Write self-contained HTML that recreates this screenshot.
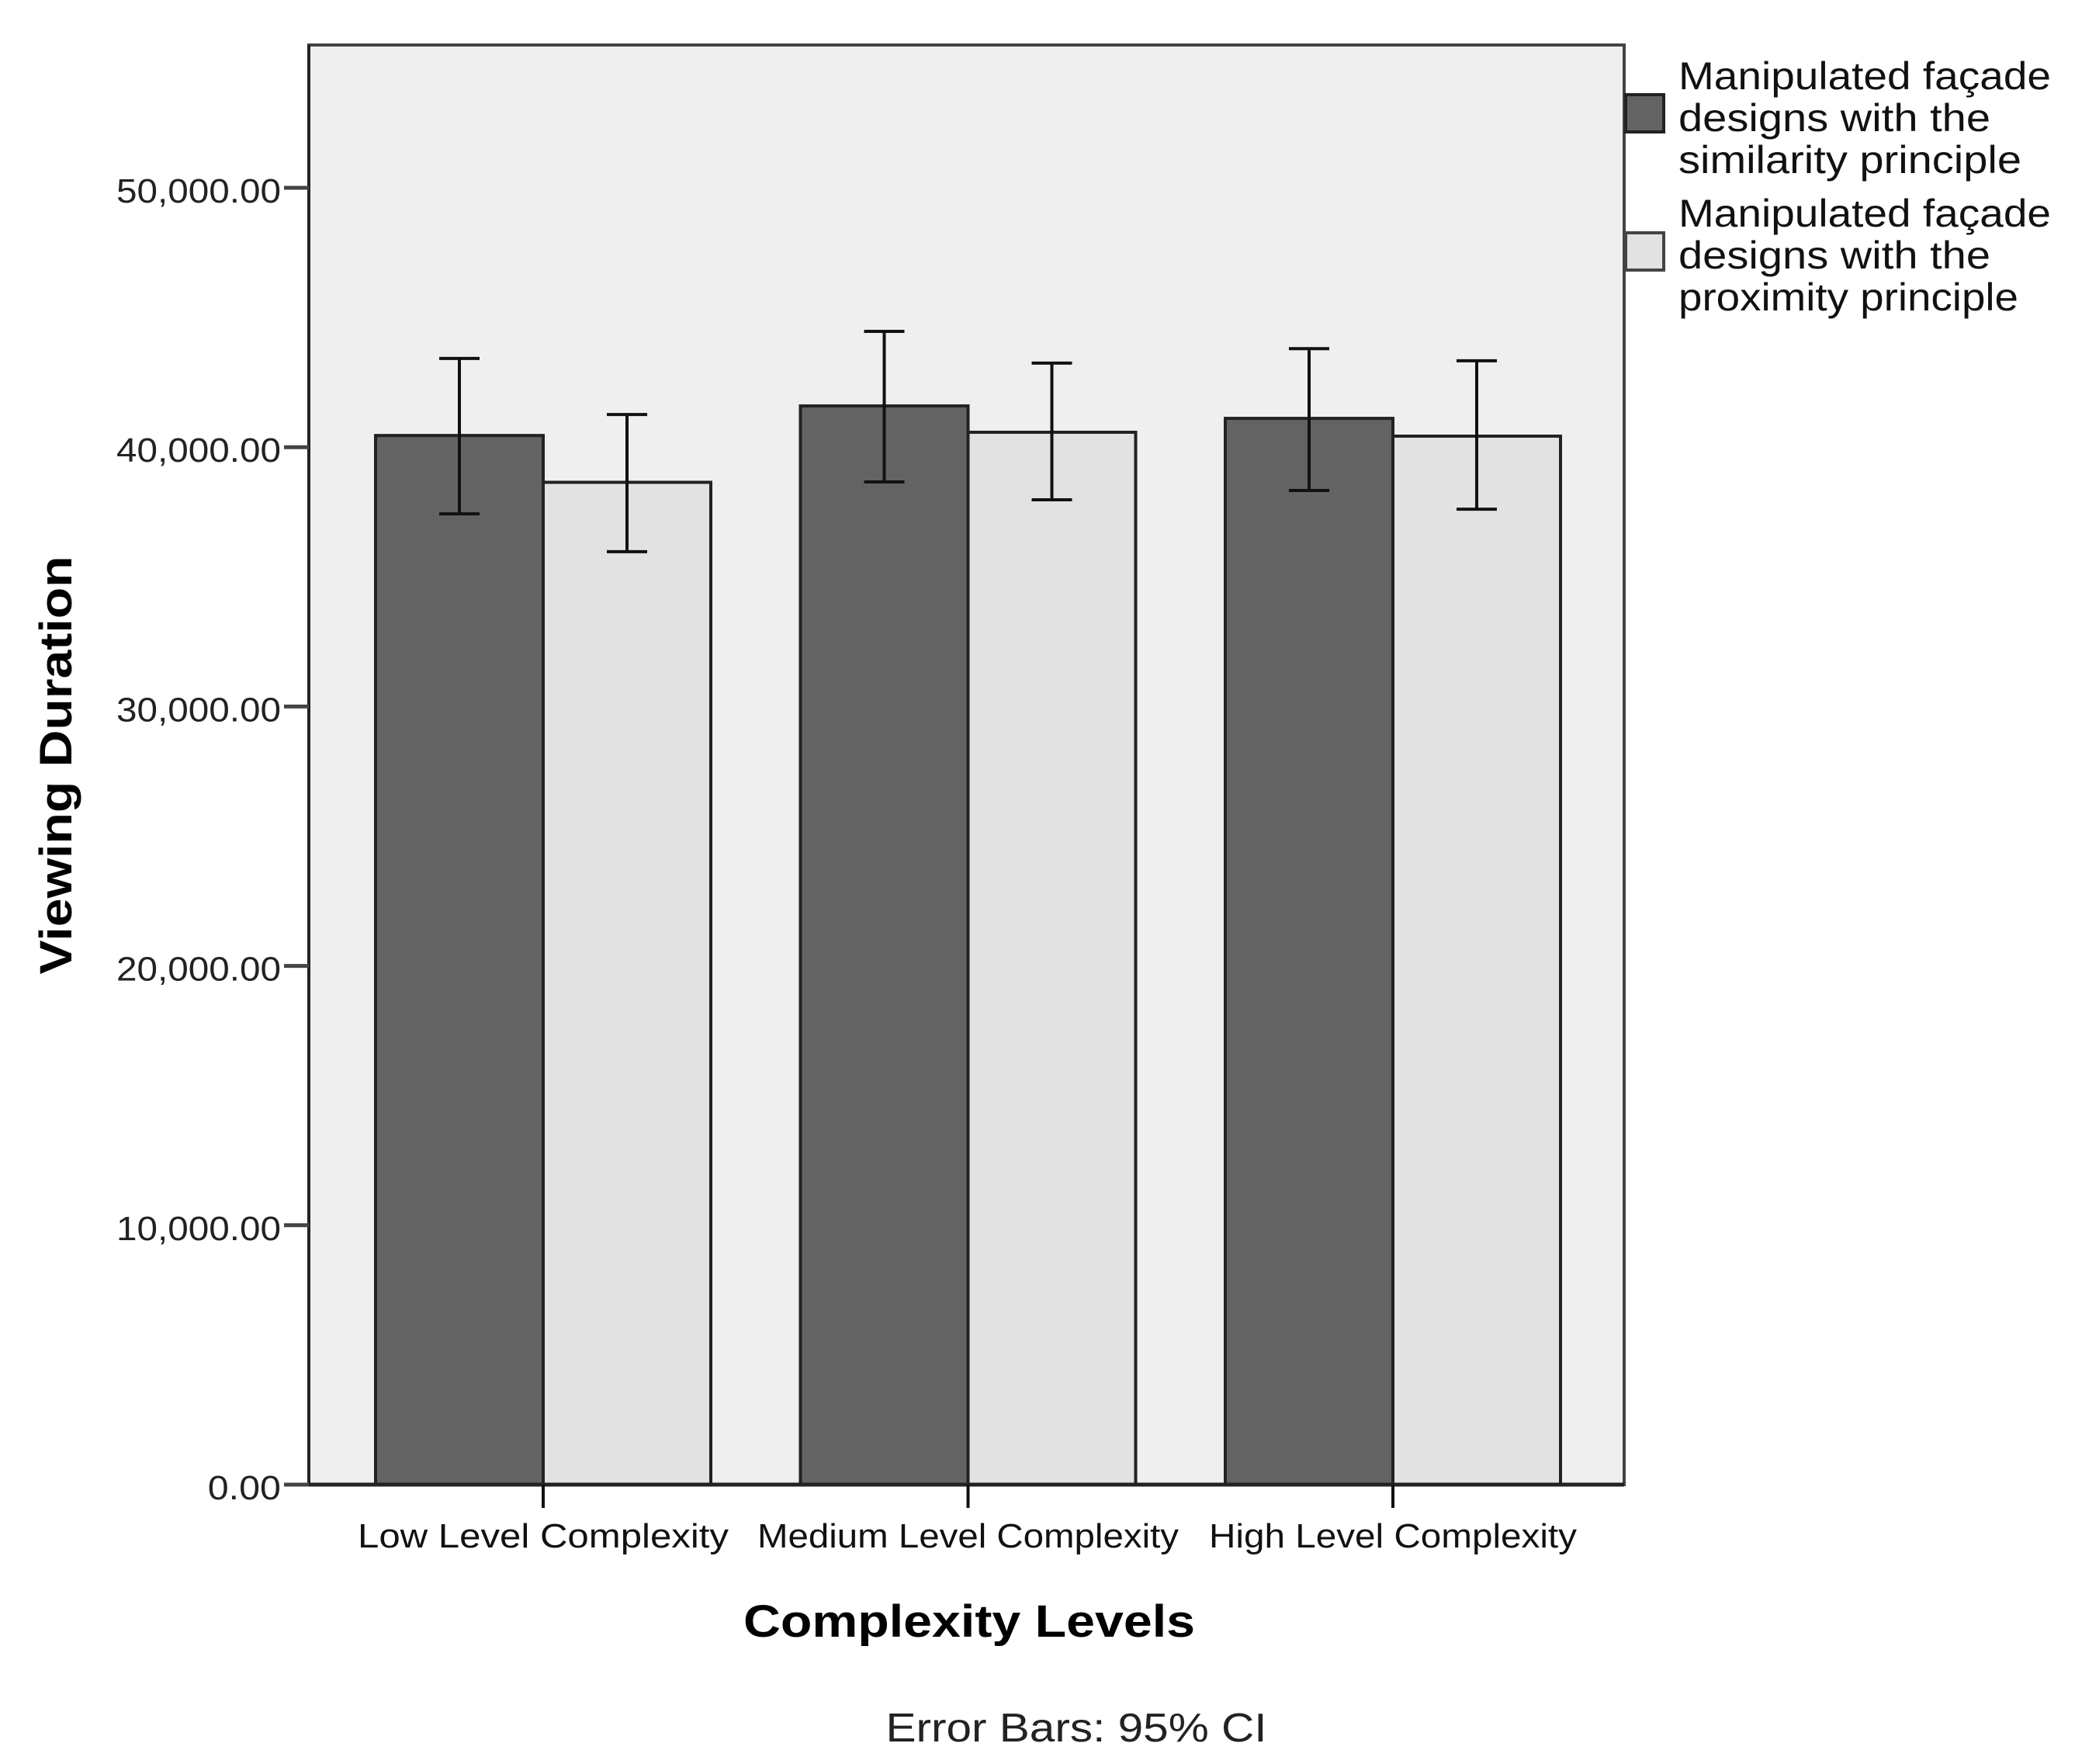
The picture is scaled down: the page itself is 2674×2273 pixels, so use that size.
<!DOCTYPE html>
<html><head><meta charset="utf-8"><style>
html,body{margin:0;padding:0;background:#fff;}
svg{display:block;font-family:"Liberation Sans",Arial,sans-serif;}
</style></head><body>
<svg id="chart" width="2674" height="2273" viewBox="0 0 2674 2273" xmlns="http://www.w3.org/2000/svg">
<rect x="398" y="58" width="1695" height="1855" fill="#efefef" stroke="#444" stroke-width="4"/>
<g id="marks"></g>
<g id="axes"></g>
<text x="1249" y="2109" font-size="58" font-weight="bold" text-anchor="middle" textLength="582" lengthAdjust="spacingAndGlyphs" fill="#000">Complexity Levels</text>
<text transform="translate(92,986) rotate(-90)" font-size="58" font-weight="bold" text-anchor="middle" textLength="539" lengthAdjust="spacingAndGlyphs" fill="#000">Viewing Duration</text>
<text x="1387" y="2244" font-size="52" text-anchor="middle" textLength="491" lengthAdjust="spacingAndGlyphs" fill="#222">Error Bars: 95% CI</text>
<g>
<rect x="2095" y="122" width="49" height="48" fill="#636363" stroke="#222" stroke-width="4"/>
<text font-size="50" fill="#111">
<tspan x="2163" y="115" textLength="480" lengthAdjust="spacingAndGlyphs">Manipulated façade</tspan>
<tspan x="2163" y="169" textLength="402" lengthAdjust="spacingAndGlyphs">designs with the</tspan>
<tspan x="2163" y="223" textLength="442" lengthAdjust="spacingAndGlyphs">similarity principle</tspan>
</text>
<rect x="2095" y="300" width="49" height="48" fill="#e2e2e2" stroke="#444" stroke-width="4"/>
<text font-size="50" fill="#111">
<tspan x="2163" y="292" textLength="480" lengthAdjust="spacingAndGlyphs">Manipulated façade</tspan>
<tspan x="2163" y="346" textLength="402" lengthAdjust="spacingAndGlyphs">designs with the</tspan>
<tspan x="2163" y="400" textLength="438" lengthAdjust="spacingAndGlyphs">proximity principle</tspan>
</text>
</g>
</svg>
<script>
const categories = ["Low Level Complexity", "Medium Level Complexity", "High Level Complexity"];
const similarityMeans = [40450, 41590, 41110];
const similarityLow = [37430, 38660, 38330];
const similarityHigh = [43420, 44465, 43800];
const proximityMeans = [38645, 40575, 40425];
const proximityLow = [35970, 37970, 37610];
const proximityHigh = [41260, 43240, 43330];
const yTicks = [0, 10000, 20000, 30000, 40000, 50000];
const yTickLabels = ["0.00", "10,000.00", "20,000.00", "30,000.00", "40,000.00", "50,000.00"];
const catLabelWidths = [478, 543, 474];

const NS = "http://www.w3.org/2000/svg";
const baseY = 1913, pxPer = 334.2 / 10000;
function yScale(v) { return baseY - v * pxPer; }
function xCenter(i) { return 700 + i * 547.5; }
const barW = 216;
const marks = document.getElementById("marks");
const axes = document.getElementById("axes");
function mk(tag, attrs, parent) {
  const e = document.createElementNS(NS, tag);
  for (const k in attrs) e.setAttribute(k, attrs[k]);
  parent.appendChild(e);
  return e;
}
const series = [
  {name: "similarity", means: similarityMeans, lo: similarityLow, hi: similarityHigh, fill: "#636363", off: -1},
  {name: "proximity", means: proximityMeans, lo: proximityLow, hi: proximityHigh, fill: "#e2e2e2", off: 0}
];
series.forEach(s => {
  s.means.forEach((v, i) => {
    const x = xCenter(i) + s.off * barW;
    const r = mk("rect", {x: x, y: yScale(v), width: barW, height: baseY - yScale(v), fill: s.fill, stroke: "#222", "stroke-width": 4}, marks);
    
    
  });
});
series.forEach(s => {
  s.means.forEach((v, i) => {
    const cx = xCenter(i) + s.off * barW + barW / 2;
    const g = mk("g", {stroke: "#111", "stroke-width": 4, fill: "none"}, marks);
    
    
    mk("line", {x1: cx, x2: cx, y1: yScale(s.hi[i]), y2: yScale(s.lo[i])}, g);
    mk("line", {x1: cx - 26, x2: cx + 26, y1: yScale(s.hi[i]), y2: yScale(s.hi[i])}, g);
    mk("line", {x1: cx - 26, x2: cx + 26, y1: yScale(s.lo[i]), y2: yScale(s.lo[i])}, g);
  });
});
// axes lines
const xAxis = mk("line", {x1: 398, x2: 2093, y1: baseY, y2: baseY, stroke: "#222", "stroke-width": 5}, axes);


const yAxis = mk("line", {x1: 398, x2: 398, y1: 58, y2: baseY, stroke: "#222", "stroke-width": 4}, axes);


yTicks.forEach((t, i) => {
  const y = yScale(t);
  const tk = mk("line", {x1: 366, x2: 398, y1: y, y2: y, stroke: "#444", "stroke-width": 5}, axes);
  
  
  const lb = mk("text", {x: 362, y: y + 19, "font-size": 44, "text-anchor": "end", fill: "#222", textLength: 212 * yTickLabels[i].length / 9, lengthAdjust: "spacingAndGlyphs"}, axes);
  lb.textContent = yTickLabels[i];
  
  
});
categories.forEach((c, i) => {
  const x = xCenter(i);
  const tk = mk("line", {x1: x, x2: x, y1: baseY, y2: 1943, stroke: "#111", "stroke-width": 4}, axes);
  
  
  const lb = mk("text", {x: x, y: 1994, "font-size": 44, "text-anchor": "middle", fill: "#111", textLength: catLabelWidths[i], lengthAdjust: "spacingAndGlyphs"}, axes);
  lb.textContent = c;
  
  
});
</script>
</body></html>
